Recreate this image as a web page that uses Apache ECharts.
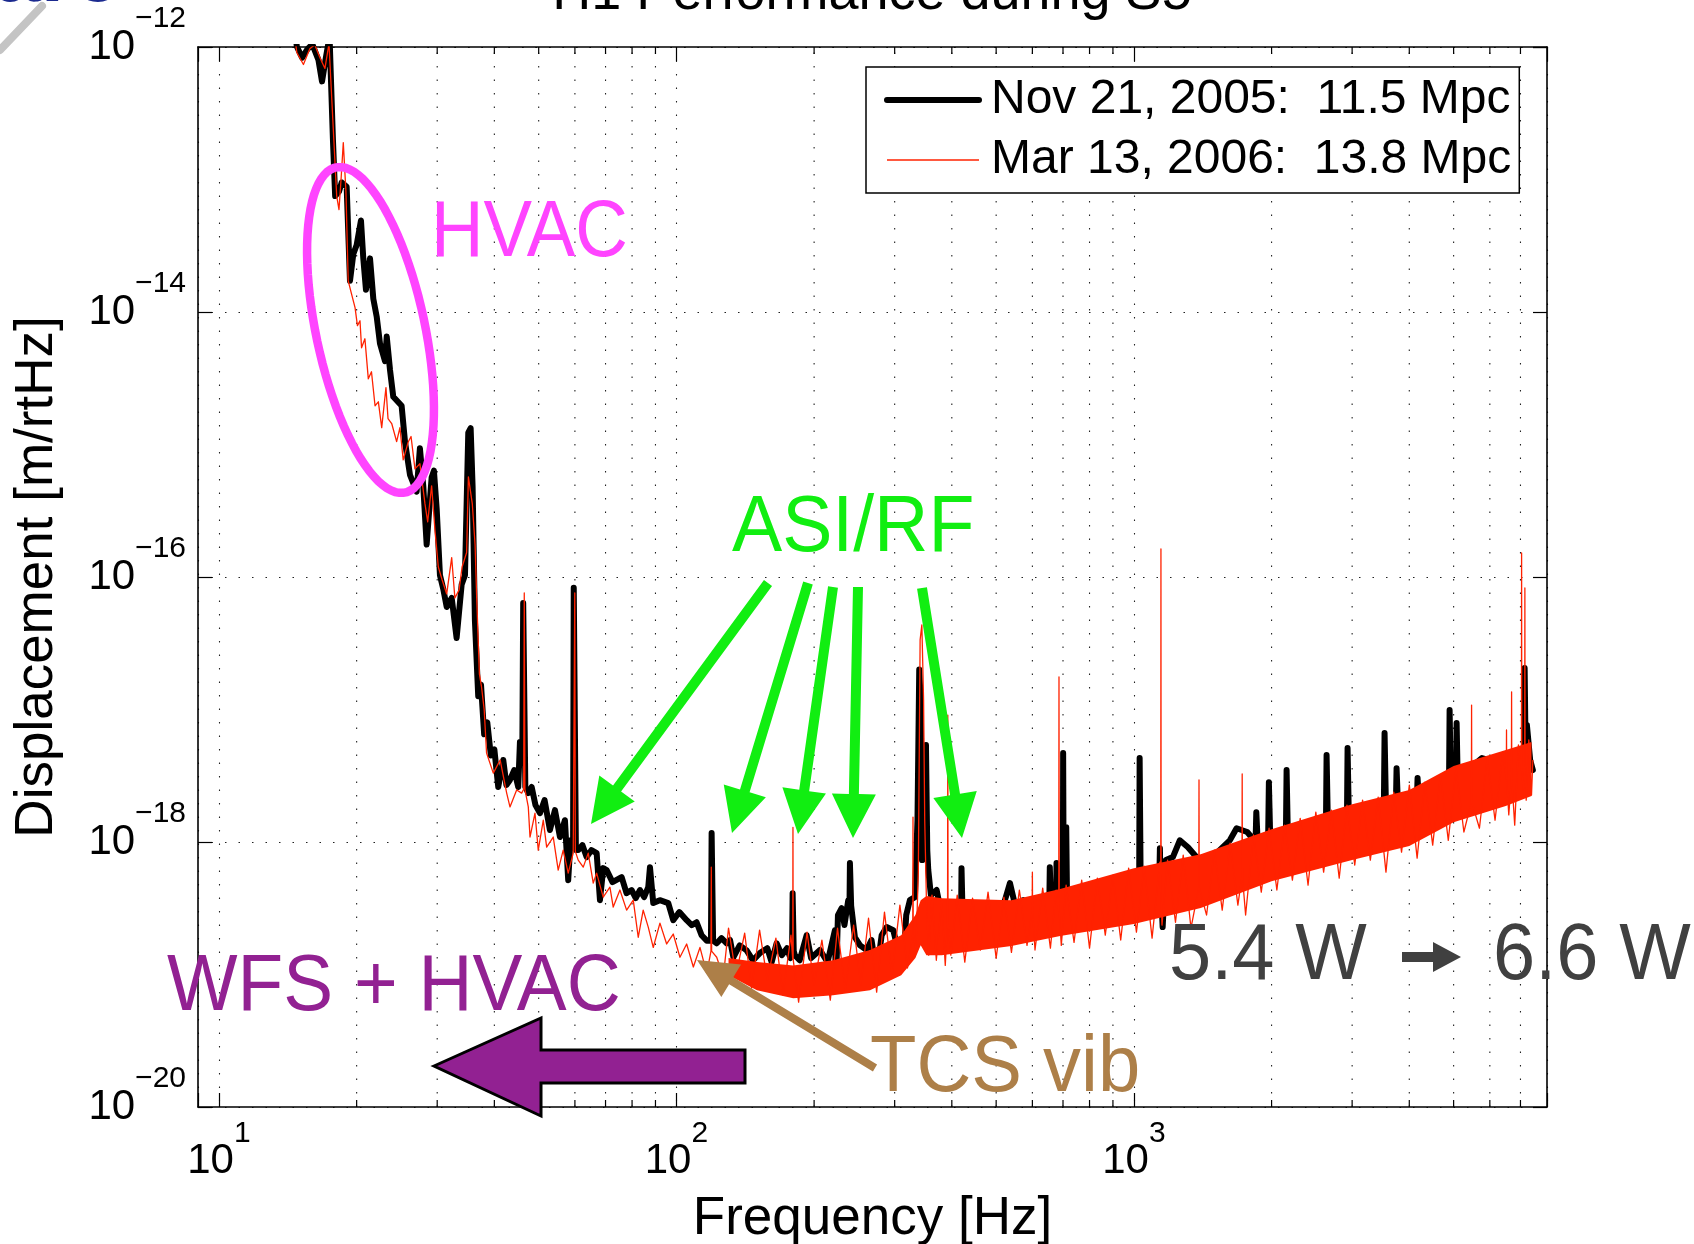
<!DOCTYPE html>
<html>
<head>
<meta charset="utf-8">
<script src="https://cdn.jsdelivr.net/npm/echarts@6/dist/echarts.min.js"></script>
<style>html,body{margin:0;padding:0;background:#fff;}#c{width:1694px;height:1244px;}</style>
</head>
<body>
<div id="c"></div>
<script>
// ---------------- DATA ----------------
const novName = 'Nov 21, 2005:  11.5 Mpc';
const marName = 'Mar 13, 2006:  13.8 Mpc';

const novFreq = [
14, 14.8, 15.2, 15.6, 16.0, 16.5, 16.8, 17.1, 17.45, 17.75,
17.95, 18.3, 18.55, 19.02, 19.34, 19.67, 20.0, 20.44, 20.68, 20.96,
21.39, 21.75, 22.12, 22.49, 23.07, 23.27, 23.66, 24.05, 25.08, 25.51,
26.16, 27.05, 27.5, 27.97, 28.45, 29.17, 29.51, 29.92, 30.42, 30.93,
31.47, 32.27, 33.08, 33.93, 34.5, 35.08, 35.5, 35.85, 36.27, 36.88,
37.4, 38.0, 38.6, 39.3, 40.0, 40.79, 41.83, 42.5, 43.27, 44.2,
45.11, 45.5, 46.05, 46.25, 46.55, 46.75, 47.45, 48.27, 49.2, 50.31,
51.5, 52.91, 54.26, 55.65, 57.06, 58.01, 58.7, 59.45, 59.65, 60.05,
60.3, 61.01, 62.3, 63.65, 65.2, 66.94, 68.06, 69.2, 70.39, 72.5,
75.91, 77.8, 79.83, 81.5, 83.23, 85.0, 86.79, 87.54, 89.0, 92.0,
95.99, 98.42, 101.5, 105.3, 108.0, 110.7, 113.5, 116.5, 119.0, 119.4,
119.9, 120.3, 122.5, 125.5, 128.8, 131.0, 133.2, 137.5, 142.4, 147.0,
152.2, 158.0, 161.5, 165.6, 170.0, 174.5, 177.5, 179.0, 179.5, 180.0,
180.5, 181.5, 186.0, 192.6, 197.0, 206.0, 214.0, 222.1, 223.2, 225.5,
229.7, 233.0, 237.5, 239.0, 239.5, 240.3, 241.0, 245.6, 252.0, 260.5,
267.0, 274.0, 281.0, 288.1, 297.9, 305.0, 313.2, 318.0, 323.9, 332.2,
336.5, 339.5, 342.0, 344.5, 347.0, 351.2, 353.5, 355.3, 360.0, 364.3,
370.6, 380.0, 389.7, 400.0, 412.0, 419.2, 420.0, 421.3, 422.2, 428.0,
453.2, 470.0, 492.7, 515.0, 535.9, 550.0, 573.0, 600.0, 630.0, 653.5,
655.0, 657.0, 658.5, 676.0, 677.5, 679.0, 690.0, 699.5, 700.5, 701.5,
702.5, 710.0, 711.5, 713.0, 714.5, 760.0, 800.0, 850.0, 900.0, 960.0,
1000, 1027, 1029.5, 1032.5, 1035, 1060, 1100, 1125, 1137, 1140,
1143, 1156, 1175, 1217, 1260, 1313, 1400, 1500, 1621, 1677,
1769, 1845, 1852, 1858, 1865, 1920, 1966, 1973, 1979, 1986,
2030, 2150, 2157, 2163, 2170, 2250, 2400, 2550, 2630, 2638,
2646, 2655, 2750, 2923, 2932, 2942, 2951, 3050, 3250, 3520,
3532, 3544, 3556, 3650, 3740, 3752, 3764, 3776, 3900, 4157,
4170, 4184, 4197, 4300, 4500, 4885, 4900, 4916, 4932, 4990,
5060, 5076, 5090, 5106, 5300, 5766, 6200, 6700, 7000, 7125,
7148, 7166, 7190, 7230, 7350, 7450
];
const novDisp = [
5e-12, 1.01e-12, 8.3e-13, 9.6e-13, 1.05e-12, 8.0e-13, 5.5e-13, 8.0e-13, 1.2e-12, 2.0e-13,
7.5e-14, 8.1e-14, 9.5e-14, 8.8e-14, 1.72e-14, 2.74e-14, 3.2e-14, 4.9e-14, 2.54e-14, 1.47e-14,
2.54e-14, 1.26e-14, 9.25e-15, 5.8e-15, 4.26e-15, 6.52e-15, 3.64e-15, 2.29e-15, 1.96e-15, 1.05e-15,
5.9e-16, 4.4e-16, 9.36e-16, 4.84e-16, 1.76e-16, 5.65e-16, 6.35e-16, 3.28e-16, 1.03e-16, 8.12e-17,
5.94e-17, 6.95e-17, 3.46e-17, 8.77e-17, 1.03e-16, 1.23e-15, 1.33e-15, 4.84e-16, 4.71e-17, 1.26e-17,
1.54e-17, 6.5e-18, 8.0e-18, 4.5e-18, 5.0e-18, 2.6e-18, 4.16e-18, 2.69e-18, 2.94e-18, 3.49e-18,
2.6e-18, 5.69e-18, 5.0e-18, 6.37e-17, 6.37e-17, 2.6e-18, 2.34e-18, 2.6e-18, 1.9e-18, 1.65e-18,
2.07e-18, 1.23e-18, 1.74e-18, 1.09e-18, 1.46e-18, 5.15e-19, 1.03e-18, 9.5e-19, 8.28e-17, 8.28e-17,
8.7e-19, 8.69e-19, 9.48e-19, 7.69e-19, 8.69e-19, 8.24e-19, 3.64e-19, 6.35e-19, 6.14e-19, 4.98e-19,
5.43e-19, 4.11e-19, 4.34e-19, 3.77e-19, 4.34e-19, 3.84e-19, 4.56e-19, 6.46e-19, 3.46e-19, 3.64e-19,
3.46e-19, 2.57e-19, 2.96e-19, 2.57e-19, 2.36e-19, 2.48e-19, 1.98e-19, 1.8e-19, 1.8e-19, 1.17e-18,
1.17e-18, 1.8e-19, 1.72e-19, 1.88e-19, 1.72e-19, 1.82e-19, 1.35e-19, 1.66e-19, 1.52e-19, 1.28e-19,
1.45e-19, 1.58e-19, 1.24e-19, 1.72e-19, 1.4e-19, 1.58e-19, 1.33e-19, 1.5e-19, 4.11e-19, 4.11e-19,
1.5e-19, 1.4e-19, 1.28e-19, 1.98e-19, 1.33e-19, 1.53e-19, 1.24e-19, 2.16e-19, 8.02e-20, 2.81e-19,
3.17e-19, 2.36e-19, 3.64e-19, 3.3e-19, 6.93e-19, 6.93e-19, 3.3e-19, 1.91e-19, 1.66e-19, 1.53e-19,
1.82e-19, 1.02e-19, 1.98e-19, 2.28e-19, 2.16e-19, 1.53e-19, 1.14e-19, 2.81e-19, 3.64e-19, 3.84e-19,
1.46e-18, 2.0e-17, 1.18e-17, 7.3e-19, 2.07e-18, 5.4e-18, 8.69e-19, 6.14e-19, 3.97e-19, 4.11e-19,
4.34e-19, 2.81e-19, 2.57e-19, 3.34e-19, 2.81e-19, 2.9e-19, 6.35e-19, 6.35e-19, 2.9e-19, 2.66e-19,
2.9e-19, 3.34e-19, 3.46e-19, 3.06e-19, 4.9e-19, 3.34e-19, 3.64e-19, 3.06e-19, 3.64e-19, 3.6e-19,
6.46e-19, 6.46e-19, 3.6e-19, 3.6e-19, 6.93e-19, 3.6e-19, 3.97e-19, 3.6e-19, 4.69e-18, 4.69e-18,
3.6e-19, 3.6e-19, 1.29e-18, 1.29e-18, 3.5e-19, 3.97e-19, 3.34e-19, 4.49e-19, 3.97e-19, 5.15e-19,
4.49e-19, 4.5e-19, 4.3e-18, 4.3e-18, 4.5e-19, 5.15e-19, 6.14e-19, 5.33e-19, 5.5e-19, 8.99e-19,
5.5e-19, 2.28e-19, 7.3e-19, 7.69e-19, 1.03e-18, 9.14e-19, 7.06e-19, 7.96e-19, 1.03e-18, 1.27e-18,
1.19e-18, 1.0e-18, 1.68e-18, 1.68e-18, 1.0e-18, 1.07e-18, 1.1e-18, 2.83e-18, 2.83e-18, 1.1e-18,
1.13e-18, 1.2e-18, 3.49e-18, 3.49e-18, 1.2e-18, 1.23e-18, 1.34e-18, 1.51e-18, 1.4e-18, 4.53e-18,
4.53e-18, 1.4e-18, 1.6e-18, 1.5e-18, 5.12e-18, 5.12e-18, 1.5e-18, 1.8e-18, 1.9e-18, 1.9e-18,
6.65e-18, 6.65e-18, 1.9e-18, 2.07e-18, 2.0e-18, 3.61e-18, 3.61e-18, 2.0e-18, 2.15e-18, 2.1e-18,
3.04e-18, 3.04e-18, 2.1e-18, 2.47e-18, 2.69e-18, 2.6e-18, 9.9e-18, 9.9e-18, 2.6e-18, 3.2e-18,
2.7e-18, 7.91e-18, 7.91e-18, 2.7e-18, 3.37e-18, 4.3e-18, 4.0e-18, 4.3e-18, 4.94e-18, 3.8e-18,
2.06e-17, 2.06e-17, 3.8e-18, 7.64e-18, 4.16e-18, 3.49e-18
];

const marFreq = [
14, 14.8, 15.3, 15.8, 16.2, 16.63, 17.05, 17.4, 17.78, 18.09,
18.3, 18.5, 18.7, 18.95, 19.17, 19.49, 19.84, 20.08, 20.34, 20.5,
20.85, 21.21, 21.55, 21.94, 22.31, 22.69, 23.18, 23.42, 23.86, 24.46,
24.87, 25.28, 25.94, 26.3, 26.82, 27.5, 28.21, 28.6, 29.17, 29.67,
30.17, 30.76, 31.47, 32.27, 32.79, 33.5, 34.0, 34.79, 35.1, 35.8,
36.3, 36.6, 37.1, 37.5, 38.0, 38.46, 39.79, 41.18, 42.56, 43.27,
44.75, 45.89, 46.35, 46.5, 46.65, 47.45, 47.86, 49.08, 49.89, 51.17,
52.05, 53.8, 55.16, 56.57, 58.01, 59.49, 59.8, 59.96, 60.12, 61.01,
62.57, 64.16, 65.8, 66.94, 69.19, 71.56, 72.76, 75.26, 77.84, 80.48,
82.52, 84.61, 86.79, 89.0, 92.05, 95.21, 98.42, 101.8, 105.3, 108.9,
112.6, 116.5, 119.0, 119.2, 119.4, 122.5, 126.6, 130, 135, 141,
146, 152, 158, 165, 171, 178, 179.6, 179.8, 180.0, 185,
193, 200, 208, 217, 225, 234, 244, 253, 263, 274,
285, 296, 308, 320, 328.6, 329, 329.4, 334, 338, 341,
344, 347, 349, 352, 356, 362, 370, 380, 387, 391.5,
392, 392.5, 398, 411, 427, 444, 462, 480, 500, 520,
540, 562, 584, 599.3, 600, 600.7, 608, 632, 657, 676,
685.2, 686, 686.8, 694, 711, 740, 769, 800, 832, 866,
900, 936, 974, 1013, 1053, 1096, 1140, 1145, 1146, 1147,
1152, 1185, 1233, 1282, 1333, 1386.5, 1388, 1389.5, 1442, 1500,
1560, 1623, 1688, 1723, 1725, 1727, 1755, 1826, 1899, 1975,
2054, 2136, 2221, 2310, 2403, 2499, 2599, 2703, 2811, 2923,
3040, 3162, 3288, 3420, 3557, 3699, 3847, 4001, 4161, 4327,
4500, 4680, 4868, 5062, 5265, 5467, 5473, 5479, 5694, 5922,
6159, 6405, 6519, 6525, 6531, 6600, 6688, 6694, 6700, 6800,
6928, 7034, 7040, 7046, 7100, 7151, 7157, 7163, 7205, 7300,
7400, 7450
];
const marDisp = [
4e-12, 9.08e-13, 7.38e-13, 9.7e-13, 1.04e-12, 8.3e-13, 6.89e-13, 1.06e-12, 2.42e-13, 7.5e-14,
5.93e-14, 1.03e-13, 1.9e-13, 8.1e-14, 1.72e-14, 1.37e-14, 1.08e-14, 7.89e-15, 8.59e-15, 5.37e-15,
6.28e-15, 3.13e-15, 3.54e-15, 1.96e-15, 2.1e-15, 1.34e-15, 2.69e-15, 1.57e-15, 1.44e-15, 1.05e-15,
1.34e-15, 7.66e-16, 1.05e-15, 1.15e-15, 6.55e-16, 7.15e-16, 3.56e-16, 2.61e-16, 4.88e-16, 2.23e-16,
1.19e-16, 9.5e-17, 7.45e-17, 1.4e-16, 6.95e-17, 8.0e-17, 1.19e-16, 1.53e-16, 5.7e-16, 3.56e-16,
1.76e-16, 6.95e-17, 1.85e-17, 1.48e-17, 1.0e-17, 4.69e-18, 3.31e-18, 4.16e-18, 2.34e-18, 1.84e-18,
2.47e-18, 2.34e-18, 2.5e-18, 7.58e-17, 2.5e-18, 1.84e-18, 1.09e-18, 1.65e-18, 8.69e-19, 1.46e-18,
9.14e-19, 1.09e-18, 6.14e-19, 8.69e-19, 5.82e-19, 8.24e-19, 8.5e-19, 7.58e-17, 8.5e-19, 7.3e-19,
6.46e-19, 8.24e-19, 4.9e-19, 5.82e-19, 3.84e-19, 4.56e-19, 3.23e-19, 4.34e-19, 3.06e-19, 3.64e-19,
1.91e-19, 3.06e-19, 2.28e-19, 1.6e-19, 2.44e-19, 1.7e-19, 2.02e-19, 1.35e-19, 1.7e-19, 1.14e-19,
1.6e-19, 1.02e-19, 1.5e-19, 6.46e-19, 1.5e-19, 1.35e-19, 9.54e-20, 2.24e-19, 9.88e-20, 2.05e-19,
7.89e-20, 2.16e-19, 9.06e-20, 1.88e-19, 6.98e-20, 1.98e-19, 1.3e-19, 1.29e-18, 1.3e-19, 6.18e-20,
2.09e-19, 8.3e-20, 1.82e-19, 6.4e-20, 2.24e-19, 7.61e-20, 2.36e-19, 8.3e-20, 2.66e-19, 7.35e-20,
2.96e-19, 9.88e-20, 3.34e-19, 1.12e-19, 2.0e-19, 1.54e-18, 2.0e-19, 1.53e-19, 6.14e-19, 3.35e-17,
4.35e-17, 1.18e-17, 1.46e-18, 3.64e-19, 1.4e-19, 3.97e-19, 1.28e-19, 3.64e-19, 1.17e-19, 2.5e-19,
9.08e-18, 2.5e-19, 1.4e-19, 3.97e-19, 1.24e-19, 3.77e-19, 1.53e-19, 4.19e-19, 1.33e-19, 3.84e-19,
1.47e-19, 4.34e-19, 1.66e-19, 3.0e-19, 5.93e-19, 3.0e-19, 1.53e-19, 4.49e-19, 1.58e-19, 4.34e-19,
3.0e-19, 1.76e-17, 3.0e-19, 1.66e-19, 4.72e-19, 1.75e-19, 5.15e-19, 1.58e-19, 5.33e-19, 1.98e-19,
5.62e-19, 1.82e-19, 6.35e-19, 2.09e-19, 6.58e-19, 1.88e-19, 7.06e-19, 4.0e-19, 1.63e-16, 4.0e-19,
2.36e-19, 7.3e-19, 2.48e-19, 7.96e-19, 2.24e-19, 4.5e-19, 2.94e-18, 4.5e-19, 2.81e-19, 8.69e-19,
3.06e-19, 9.8e-19, 3.34e-19, 5.5e-19, 3.26e-18, 5.5e-19, 2.81e-19, 1.13e-18, 4.19e-19, 1.27e-18,
4.34e-19, 1.34e-18, 5.15e-19, 1.51e-18, 4.72e-19, 1.68e-18, 5.93e-19, 1.74e-18, 5.33e-19, 1.9e-18,
6.7e-19, 2.07e-18, 7.3e-19, 2.18e-18, 5.93e-19, 2.38e-18, 8.39e-19, 2.69e-18, 7.55e-19, 2.83e-18,
9.48e-19, 3.2e-18, 1.03e-18, 3.61e-18, 1.19e-18, 2.0e-18, 1.08e-17, 2.0e-18, 1.27e-18, 4.3e-18,
1.46e-18, 4.78e-18, 3.0e-18, 7.0e-18, 3.0e-18, 1.6e-18, 3.0e-18, 1.36e-17, 3.0e-18, 1.34e-18,
5.4e-18, 3.5e-18, 1.52e-16, 3.5e-18, 2.47e-18, 3.5e-18, 8.27e-17, 3.5e-18, 2.07e-18, 5.89e-18,
2.26e-18, 4.16e-18
];

// dense core of the Mar 2006 noise band (upper / lower envelope)
const bandFreq   = [130, 150, 180, 220, 265, 310, 333, 342, 352, 380, 540, 690, 1000, 1400, 2000, 3000, 4000, 5000, 6500, 7400];
const bandTop    = [1.33e-19, 1.24e-19, 1.17e-19, 1.28e-19, 1.53e-19, 1.98e-19, 2.81e-19, 3.64e-19, 3.91e-19, 3.77e-19, 3.64e-19, 4.42e-19, 6.35e-19, 8.1e-19, 1.25e-18, 1.93e-18, 2.47e-18, 3.74e-18, 4.94e-18, 5.69e-18];
const bandBottom = [9.88e-20, 7.61e-20, 6.62e-20, 6.98e-20, 7.61e-20, 9.88e-20, 1.33e-19, 1.66e-19, 1.4e-19, 1.4e-19, 1.64e-19, 1.95e-19, 2.4e-19, 3.17e-19, 5.06e-19, 7.3e-19, 9.31e-19, 1.41e-18, 1.87e-18, 2.22e-18];

// minor grid / tick positions of the frequency axis
const minorFreqs = [20, 30, 40, 50, 60, 70, 80, 90, 200, 300, 400, 500, 600, 700, 800, 900, 2000, 3000, 4000, 5000, 6000, 7000];

const xMin = 9, xMax = 8000, yMin = 1e-20, yMax = 1e-12;

// ---------------- CHART ----------------
const FONT = '"Liberation Sans", Helvetica, Arial, sans-serif';
const chart = echarts.init(document.getElementById('c'), null, {renderer: 'canvas', width: 1694, height: 1244});

function powLabel(v, b, s) {
  const lg = Math.log10(v), e = Math.round(lg);
  if (Math.abs(lg - e) > 1e-6) return '';
  return '{' + b + '|10}{' + s + '|' + (e < 0 ? '\u2212' + (-e) : String(e)) + '}';
}

function arrowPoly(x1, y1, x2, y2, sw, hl, hw) {
  const dx = x2 - x1, dy = y2 - y1, L = Math.hypot(dx, dy);
  const ux = dx / L, uy = dy / L, px = -uy, py = ux;
  const bx = x2 - ux * hl, by = y2 - uy * hl;
  return [
    [x1 + px * sw / 2, y1 + py * sw / 2], [bx + px * sw / 2, by + py * sw / 2],
    [bx + px * hw, by + py * hw], [x2, y2], [bx - px * hw, by - py * hw],
    [bx - px * sw / 2, by - py * sw / 2], [x1 - px * sw / 2, y1 - py * sw / 2]
  ];
}

function ellipsePts(cx, cy, rx, ry, deg) {
  const a = deg * Math.PI / 180, pts = [];
  for (let i = 0; i < 90; i++) {
    const t = i / 90 * Math.PI * 2;
    const x = rx * Math.cos(t), y = ry * Math.sin(t);
    pts.push([cx + x * Math.cos(a) + y * Math.sin(a), cy - x * Math.sin(a) + y * Math.cos(a)]);
  }
  return pts;
}

function annText(txt, x, y, size, sx, color) {
  return {
    type: 'text', x: x, y: y, scaleX: sx, z: 100, silent: true,
    style: {text: txt, fill: color, font: size + 'px ' + FONT, fontSize: size, fontFamily: FONT,
            align: 'left', verticalAlign: 'middle', textAlign: 'left', textVerticalAlign: 'middle'}
  };
}

const green = '#11ee11';
const greenArrows = [
  [768, 583, 591, 824], [808, 583, 732, 833], [833, 587, 798, 834],
  [858, 587, 853, 838], [922, 588, 962, 838]
];

const graphics = [];
graphics.push({type: 'text', x: 872, y: -6, z: 100, silent: true,
  style: {text: 'H1 Performance during S5', fill: '#000', font: '54px ' + FONT, fontSize: 54, fontFamily: FONT,
          align: 'center', verticalAlign: 'middle', textAlign: 'center', textVerticalAlign: 'middle'}});
graphics.push({type: 'text', x: -6, y: -22, z: 100, silent: true,
  style: {text: 'arc', fill: '#1b2a8f', font: 'bold 84px ' + FONT, fontSize: 84, fontWeight: 'bold', fontFamily: FONT,
          align: 'left', verticalAlign: 'middle', textAlign: 'left', textVerticalAlign: 'middle'}});
graphics.push({type: 'line', z: 100, silent: true, shape: {x1: 0, y1: 50, x2: 42, y2: 6},
  style: {stroke: '#c4c4c4', lineWidth: 8, lineCap: 'round'}});
graphics.push({type: 'polygon', z: 100, silent: true, shape: {points: ellipsePts(370.5, 330, 54.4, 166.2, 12)},
  style: {fill: 'none', stroke: '#ff44ff', lineWidth: 8.5}});
graphics.push(annText('HVAC', 431, 234, 80, 0.91, '#ff44ff'));
graphics.push(annText('ASI/RF', 732, 529, 80, 0.94, green));
greenArrows.forEach(a => graphics.push({type: 'polygon', z: 100, silent: true,
  shape: {points: arrowPoly(a[0], a[1], a[2], a[3], 10, 44, 22)}, style: {fill: green}}));
graphics.push(annText('WFS + HVAC', 167, 988, 80, 0.935, '#922192'));
graphics.push({type: 'polygon', z: 100, silent: true,
  shape: {points: [[434, 1066], [541, 1018], [541, 1050], [745, 1050], [745, 1083], [541, 1083], [541, 1116]]},
  style: {fill: '#922192', stroke: '#000', lineWidth: 3, lineJoin: 'miter'}});
graphics.push(annText('TCS vib', 870, 1069, 80, 0.95, '#ad7f48'));
graphics.push({type: 'polygon', z: 100, silent: true,
  shape: {points: arrowPoly(875, 1068, 697, 960, 8, 40, 19)}, style: {fill: '#ad7f48'}});
graphics.push(annText('5.4 W', 1169, 957, 80, 0.947, '#404040'));
graphics.push(annText('6.6 W', 1493, 957, 80, 0.947, '#404040'));
graphics.push({type: 'polygon', z: 100, silent: true,
  shape: {points: [[1402, 952], [1433, 952], [1433, 942], [1461, 957], [1433, 972], [1433, 962], [1402, 962]]},
  style: {fill: '#404040'}});

const axisLineStyle = {color: '#000', width: 1.6};
const xRich = {
  xb: {fontSize: 42, lineHeight: 42, fontFamily: FONT, color: '#000', verticalAlign: 'bottom'},
  xs: {fontSize: 30, lineHeight: 30, fontFamily: FONT, color: '#000', verticalAlign: 'bottom', padding: [0, 0, 33, 0]}
};
const yRich = {
  yb: {fontSize: 42, lineHeight: 42, fontFamily: FONT, color: '#000', verticalAlign: 'bottom'},
  ys: {fontSize: 30, lineHeight: 30, fontFamily: FONT, color: '#000', verticalAlign: 'bottom', padding: [0, 0, 34, 0]}
};
const dotted = {color: '#222', width: 1.1, type: [1.5, 12]};

const option = {
  animation: false,
  backgroundColor: '#fff',
  grid: {left: 198, right: 147, top: 47, bottom: 137, containLabel: false, outerBoundsMode: 'none', show: false},
  legend: {
    data: [
      {name: novName, lineStyle: {width: 6}},
      {name: marName, lineStyle: {width: 1.3}}
    ],
    orient: 'vertical', left: 866, top: 67,
    padding: [9, 8, 9, 18], itemGap: 12, itemWidth: 92, itemHeight: 20,
    backgroundColor: '#fff', borderColor: '#000', borderWidth: 1.5, borderRadius: 0,
    selectedMode: false,
    itemStyle: {opacity: 0},
    lineStyle: {width: 'inherit'},
    textStyle: {fontSize: 48, lineHeight: 48, color: '#000', fontFamily: FONT, padding: [0, 0, 0, 7]}
  },
  xAxis: [
    {
      type: 'log', logBase: 10, min: xMin, max: xMax, position: 'bottom',
      name: 'Frequency [Hz]', nameLocation: 'middle', nameGap: 86,
      nameTextStyle: {fontSize: 53, lineHeight: 53, color: '#000', fontFamily: FONT},
      axisLine: {show: true, onZero: false, lineStyle: axisLineStyle},
      axisTick: {show: true, inside: true, length: 14, lineStyle: {color: '#000', width: 1.2}},
      minorTick: {show: false},
      axisLabel: {show: true, margin: 33, formatter: v => powLabel(v, 'xb', 'xs'), rich: xRich},
      splitLine: {show: true, lineStyle: dotted}
    },
    {
      type: 'log', logBase: 10, min: xMin, max: xMax, position: 'top',
      axisLine: {show: true, onZero: false, lineStyle: axisLineStyle},
      axisTick: {show: true, inside: true, length: 14, lineStyle: {color: '#000', width: 1.2}},
      axisLabel: {show: false}, splitLine: {show: false}
    }
  ],
  yAxis: [
    {
      type: 'log', logBase: 100, min: yMin, max: yMax, position: 'left',
      name: 'Displacement [m/rtHz]', nameLocation: 'middle', nameGap: 134, nameRotate: 90,
      nameTextStyle: {fontSize: 53, lineHeight: 53, color: '#000', fontFamily: FONT},
      axisLine: {show: true, onZero: false, lineStyle: axisLineStyle},
      axisTick: {show: true, inside: true, length: 14, lineStyle: {color: '#000', width: 1.2}},
      axisLabel: {show: true, margin: 12, formatter: v => powLabel(v, 'yb', 'ys'), rich: yRich},
      splitLine: {show: true, lineStyle: dotted}
    },
    {
      type: 'log', logBase: 100, min: yMin, max: yMax, position: 'right',
      axisLine: {show: true, onZero: false, lineStyle: axisLineStyle},
      axisTick: {show: true, inside: true, length: 14, lineStyle: {color: '#000', width: 1.2}},
      axisLabel: {show: false}, splitLine: {show: false}
    }
  ],
  graphic: {elements: graphics},
  series: [
    {
      name: 'minorGrid', type: 'custom', z: 1, silent: true,
      xAxisIndex: 0, yAxisIndex: 0,
      data: minorFreqs.map(f => [f, 1e-16]),
      encode: {x: 0, y: 1},
      renderItem: (params, api) => {
        const f = api.value(0);
        const b = api.coord([f, yMin]), t = api.coord([f, yMax]);
        return {type: 'group', children: [
          {type: 'line', shape: {x1: b[0], y1: b[1], x2: t[0], y2: t[1]}, style: {stroke: '#222', lineWidth: 1.1, lineDash: [1.5, 12]}},
          {type: 'line', shape: {x1: b[0], y1: b[1], x2: b[0], y2: b[1] - 7}, style: {stroke: '#000', lineWidth: 1.2}},
          {type: 'line', shape: {x1: t[0], y1: t[1], x2: t[0], y2: t[1] + 7}, style: {stroke: '#000', lineWidth: 1.2}}
        ]};
      }
    },
    {
      name: novName, type: 'line', z: 2, symbol: 'none', showSymbol: false, clip: true,
      xAxisIndex: 0, yAxisIndex: 0,
      data: novFreq.map((f, i) => [f, novDisp[i]]),
      lineStyle: {color: '#000', width: 6, cap: 'round', join: 'round'},
      itemStyle: {color: '#000'}
    },
    {
      name: 'marCore', type: 'custom', z: 3, silent: true,
      xAxisIndex: 0, yAxisIndex: 0,
      data: [[1000, 1e-18]], encode: {x: 0, y: 1},
      renderItem: (params, api) => {
        const pts = [];
        for (let i = 0; i < bandFreq.length; i++) pts.push(api.coord([bandFreq[i], bandTop[i]]));
        for (let i = bandFreq.length - 1; i >= 0; i--) pts.push(api.coord([bandFreq[i], bandBottom[i]]));
        return {type: 'polygon', shape: {points: pts}, style: {fill: '#ff2200'}};
      }
    },
    {
      name: marName, type: 'line', z: 4, symbol: 'none', showSymbol: false, clip: true,
      xAxisIndex: 0, yAxisIndex: 0,
      data: marFreq.map((f, i) => [f, marDisp[i]]),
      lineStyle: {color: '#ff2200', width: 1.3, join: 'round'},
      itemStyle: {color: '#ff2200'}
    }
  ]
};
chart.setOption(option);
</script>
</body>
</html>
